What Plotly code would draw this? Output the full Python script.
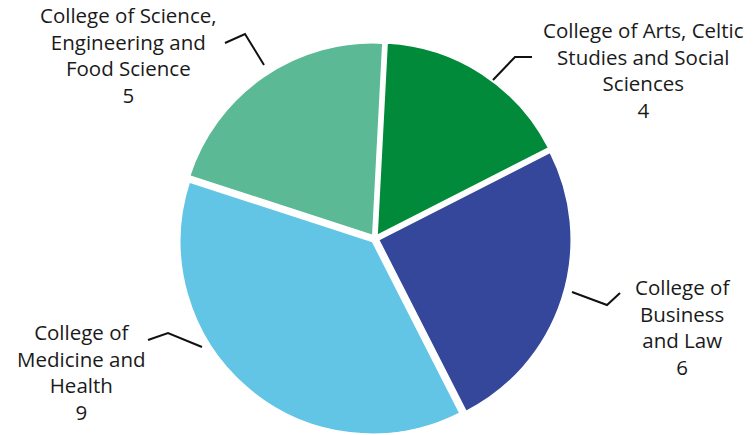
import plotly.graph_objects as go

# Staff counts per college
colleges = [
    "College of Arts, Celtic<br>Studies and Social<br>Sciences",
    "College of<br>Business<br>and Law",
    "College of<br>Medicine and<br>Health",
    "College of Science,<br>Engineering and<br>Food Science",
]
counts = [4, 6, 9, 5]
colors = ["#008A3A", "#34479A", "#62C5E6", "#5BB995"]

W, H = 754, 435


def px(x, y):
    """Convert pixel position to paper coordinates."""
    return x / W, 1 - y / H


fig = go.Figure(
    go.Pie(
        labels=colleges,
        values=counts,
        sort=False,
        direction="clockwise",
        rotation=3,
        pull=0.02,
        textinfo="none",
        hoverinfo="label+value",
        marker=dict(colors=colors, line=dict(color="white", width=1.5)),
        domain=dict(x=[0.2360, 0.7586], y=[0.0, 0.903]),
        showlegend=False,
    )
)

# Label placement (pixel centres) and elbowed leader lines for each slice
label_pos = [(643, 70), (682, 327), (81, 372), (128, 55)]
leaders = [
    [(493, 80), (515, 57), (532, 57)],
    [(572, 292), (607, 305), (620, 293)],
    [(202, 347), (168, 333), (148, 340)],
    [(264, 65), (245, 34), (225, 43)],
]

annotations = []
shapes = []
for name, val, (lx, ly), pts in zip(colleges, counts, label_pos, leaders):
    ax, ay = px(lx, ly)
    annotations.append(
        dict(
            x=ax, y=ay, xref="paper", yref="paper",
            text=f"{name}<br>{val}",
            showarrow=False, align="center",
            xanchor="center", yanchor="middle",
            font=dict(family="Open Sans", size=20.5, color="#1a1a1a"),
        )
    )
    path = ""
    for i, (x, y) in enumerate(pts):
        fx, fy = px(x, y)
        path += ("M" if i == 0 else " L") + f" {fx:.5f},{fy:.5f}"
    shapes.append(
        dict(type="path", path=path, xref="paper", yref="paper",
             line=dict(color="#111111", width=2))
    )

fig.update_layout(
    width=W, height=H,
    margin=dict(l=0, r=0, t=0, b=0),
    paper_bgcolor="white",
    plot_bgcolor="white",
    annotations=annotations,
    shapes=shapes,
)

fig.write_html("out.html")
